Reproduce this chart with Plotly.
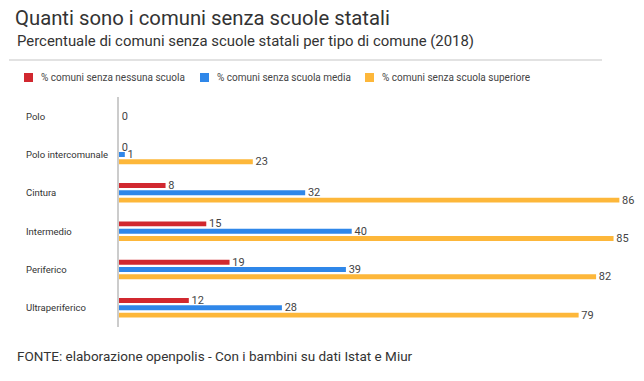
import plotly.graph_objects as go

categories = ["Polo", "Polo intercomunale", "Cintura", "Intermedio", "Periferico", "Ultraperiferico"]
series_names = ["% comuni senza nessuna scuola", "% comuni senza scuola media", "% comuni senza scuola superiore"]
nessuna_scuola = [None, 0, 8, 15, 19, 12]
scuola_media = [0, 1, 32, 40, 39, 28]
scuola_superiore = [None, 23, 86, 85, 82, 79]
colors = ["#d1282f", "#2f87e9", "#fdb73a"]

W, H = 644, 381
L, R, T, B = 119, 13, 97, 54
PW, PH = W - L - R, H - T - B

def px_x(x):
    return (x - L) / PW

def px_y(y):
    return (H - B - y) / PH

FONT = "Roboto, Arial, sans-serif"

fig = go.Figure()
for name, vals, col in zip(series_names, [nessuna_scuola, scuola_media, scuola_superiore], colors):
    fig.add_trace(go.Bar(
        y=categories, x=vals, name=name, orientation="h",
        marker=dict(color=col, line=dict(width=0)),
        text=[("" if v is None else "\u00a0" + str(v)) for v in vals],
        textposition="outside", cliponaxis=False, constraintext="none",
        textfont=dict(size=11, color="#444444", family=FONT),
    ))

annotations = []
for c in categories:
    annotations.append(dict(
        x=px_x(24), xref="paper", y=c, yref="y", text=c, showarrow=False,
        xanchor="left", yanchor="middle", font=dict(size=9.5, color="#333333", family=FONT)))

annotations.append(dict(
    x=px_x(15), xref="paper", y=px_y(41), yref="paper",
    text="Percentuale di comuni senza scuole statali per tipo di comune (2018)",
    showarrow=False, xanchor="left", yanchor="middle",
    font=dict(size=14.9, color="#333333", family=FONT)))
annotations.append(dict(
    x=px_x(15), xref="paper", y=px_y(356), yref="paper",
    text="FONTE: elaborazione openpolis - Con i bambini su dati Istat e Miur",
    showarrow=False, xanchor="left", yanchor="middle",
    font=dict(size=13.5, color="#333333", family=FONT)))

# manual legend
legend_x = [24, 200, 365]
shapes = [dict(type="line", xref="paper", yref="paper", x0=px_x(9), x1=px_x(602),
               y0=px_y(60), y1=px_y(60), line=dict(color="#d9d9d9", width=1.5))]
for lx, name, col in zip(legend_x, series_names, colors):
    shapes.append(dict(type="rect", xref="paper", yref="paper",
                       x0=px_x(lx), x1=px_x(lx + 9), y0=px_y(73), y1=px_y(82),
                       fillcolor=col, line=dict(width=0)))
    annotations.append(dict(x=px_x(lx + 15), xref="paper", y=px_y(77.5), yref="paper",
                            text=name, showarrow=False, xanchor="left", yanchor="middle",
                            font=dict(size=10, color="#444444", family=FONT)))

fig.update_layout(
    width=W, height=H,
    margin=dict(l=L, r=R, t=T, b=B, autoexpand=False),
    paper_bgcolor="white", plot_bgcolor="white",
    title=dict(text="Quanti sono i comuni senza scuole statali",
               x=15 / W, xanchor="left", xref="container",
               y=1 - 18 / H, yanchor="middle", yref="container",
               font=dict(size=20.3, color="#333333", family=FONT)),
    barmode="group", bargap=0.43, bargroupgap=0.32,
    xaxis=dict(range=[0, 88], showgrid=False, zeroline=False, showticklabels=False,
               showline=False, fixedrange=True),
    yaxis=dict(autorange="reversed", showticklabels=False, showgrid=False, zeroline=False,
               showline=True, linecolor="#cccccc", linewidth=2, ticks=""),
    annotations=annotations,
    shapes=shapes,
    showlegend=False,
)

fig.write_html("out.html", config={"displayModeBar": False},
               post_script="document.body.style.margin='0';")
